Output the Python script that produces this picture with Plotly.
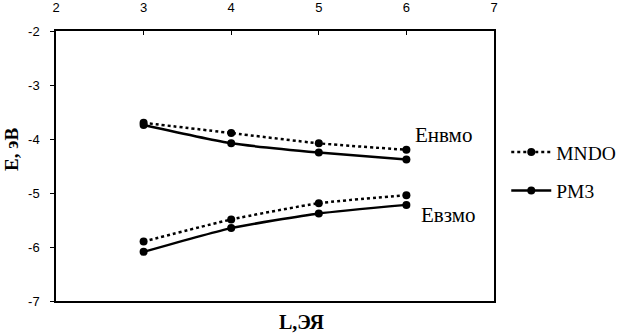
import plotly.graph_objects as go

L = [3, 4, 5, 6]
mndo_homo = [-3.70, -3.89, -4.08, -4.20]
pm3_homo = [-3.74, -4.08, -4.25, -4.38]
mndo_lumo = [-5.90, -5.49, -5.19, -5.04]
pm3_lumo = [-6.09, -5.65, -5.38, -5.22]
x_ticks = [2, 3, 4, 5, 6, 7]
x_labels = ["2", "3", "4", "5", "6", "7"]
y_ticks = [-7, -6, -5, -4, -3, -2]
y_labels = ["-7", "-6", "-5", "-4", "-3", "-2"]

serif = "Liberation Serif, Times New Roman, serif"
sans = "Liberation Sans, Arial, sans-serif"

fig = go.Figure()

def add(y, name, dash, show, group):
    fig.add_trace(go.Scatter(
        x=L, y=y, mode="lines+markers", name=name,
        line=dict(color="black", width=2.5, dash=dash, shape="spline", smoothing=0.5),
        marker=dict(color="black", size=8),
        showlegend=show, legendgroup=group,
    ))

add(mndo_homo, "MNDO", "dot", True, "a")
add(mndo_lumo, "MNDO", "dot", False, "a")
add(pm3_homo, "PM3", "solid", True, "b")
add(pm3_lumo, "PM3", "solid", False, "b")

fig.add_annotation(x=6.42, y=-3.93, text="Eнвмо", showarrow=False,
                   font=dict(family=serif, size=21, color="black"))
fig.add_annotation(x=6.48, y=-5.40, text="Eвзмо", showarrow=False,
                   font=dict(family=serif, size=21, color="black"))

fig.update_layout(
    width=622, height=334,
    margin=dict(l=56, r=128, t=31, b=33, autoexpand=False),
    paper_bgcolor="white", plot_bgcolor="white",
    showlegend=True,
    legend=dict(x=1.028, y=0.48, xanchor="left", yanchor="middle",
                font=dict(family=serif, size=19.5, color="black"),
                itemwidth=40, tracegroupgap=10, bgcolor="rgba(0,0,0,0)"),
    xaxis=dict(side="top", range=[2, 7], tickvals=x_ticks, ticktext=x_labels,
               ticks="inside", ticklen=4, tickcolor="black", automargin=False,
               showline=True, linecolor="black", linewidth=1.5, mirror=True,
               showgrid=False, zeroline=False, ticklabelstandoff=12,
               tickfont=dict(family=sans, size=13, color="black")),
    yaxis=dict(range=[-7, -2], tickvals=y_ticks, ticktext=y_labels,
               ticks="outside", ticklen=4, tickcolor="black", automargin=False,
               showline=True, linecolor="black", linewidth=1.5, mirror=True,
               showgrid=False, zeroline=False, ticklabelstandoff=8,
               tickfont=dict(family=sans, size=13, color="black")),
)

fig.add_annotation(xref="paper", yref="paper", x=0.56, y=-0.078,
                   text="<b>L,ЭЯ</b>", showarrow=False, yanchor="middle",
                   font=dict(family=serif, size=20, color="black"))
fig.add_annotation(xref="paper", yref="paper", x=-0.1, y=0.56,
                   text="<b>E, эВ</b>", showarrow=False, textangle=-90,
                   xanchor="center", yanchor="middle",
                   font=dict(family=serif, size=19, color="black"))

fig.write_html("out.html", config={"displayModeBar": False},
               post_script="document.body.style.margin='0px';")
